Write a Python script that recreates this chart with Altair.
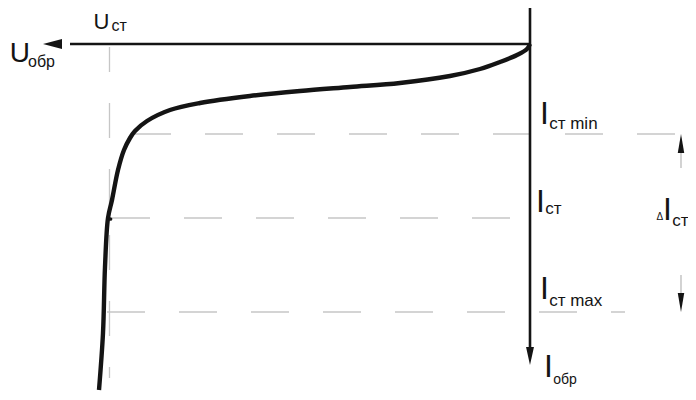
import altair as alt
import pandas as pd

# Reverse branch of a Zener diode I-V characteristic.
# U = reverse voltage (grows to the left), I = reverse current (grows downward), arbitrary units.
curve_U = [0.0, 0.3, 1.3, 3.0, 5.0, 8.0, 13.0, 18.0, 23.0, 28.0, 33.0, 36.0,
           38.3, 39.5, 40.0, 40.6, 41.2, 41.8, 42.2, 42.5, 42.7, 43.1]
curve_I = [0.0, 0.5, 1.1, 1.8, 2.5, 3.2, 3.9, 4.3, 4.7, 5.2, 5.9, 6.6,
           7.7, 8.7, 9.4, 10.6, 12.6, 15.6, 17.4, 22.3, 28.9, 34.6]

U_st = 42.05                      # stabilisation voltage
level_names = ["Iст min", "Iст", "Iст max"]
level_I = [9.0, 17.4, 26.8]       # current levels
level_left_U = [39.7, 41.8, 42.3]
level_right_U = [-14.7, 0.0, -9.5]

U_axis = [0.0, 46.0]              # U axis shaft (I = 0)
I_axis = [-4.0, 30.5]             # I axis shaft (U = 0)
U_arrow_c = 47.75                 # arrow head centres
I_arrow_c = 31.2
U_delta = -15.1                   # position of the delta-I marker

ink = "#141414"
grey = "#c6c6c6"
font = "Liberation Sans"

xs = alt.Scale(domain=[52.2, -15.8], nice=False, zero=False)
ys = alt.Scale(domain=[34.8, -3.6], nice=False, zero=False)


def X(f="U"):
    return alt.X(f"{f}:Q", scale=xs, axis=None)


def Y(f="I"):
    return alt.Y(f"{f}:Q", scale=ys, axis=None)


def seg(us, is_, name="s"):
    return pd.DataFrame({"U": us, "I": is_, "k": list(range(len(us))), "g": [name] * len(us)})


layers = []

# dashed helper lines
lvl = pd.concat([seg([level_left_U[j], level_right_U[j]], [level_I[j], level_I[j]], level_names[j])
                 for j in range(3)])
layers.append(alt.Chart(lvl).mark_line(color=grey, strokeWidth=1.3, strokeDash=[38, 34]).encode(
    x=X(), y=Y(), detail="g:N", order="k:Q"))
layers.append(alt.Chart(seg([U_st, U_st], [0.3, 33.4])).mark_line(
    color=grey, strokeWidth=1.3, strokeDash=[35, 31], strokeDashOffset=10).encode(
    x=X(), y=Y(), order="k:Q"))

# delta-I stems
stems = pd.concat([seg([U_delta, U_delta], [level_I[0] + 1.8, level_I[0] + 3.4], "a"),
                   seg([U_delta, U_delta], [level_I[2] - 3.7, level_I[2] - 1.9], "b")])
layers.append(alt.Chart(stems).mark_line(color="#b5b5b5", strokeWidth=1.2).encode(
    x=X(), y=Y(), detail="g:N", order="k:Q"))

# axes
layers.append(alt.Chart(seg(U_axis, [0, 0])).mark_line(color=ink, strokeWidth=2.6).encode(
    x=X(), y=Y(), order="k:Q"))
layers.append(alt.Chart(seg([0, 0], I_axis)).mark_line(color=ink, strokeWidth=2.6).encode(
    x=X(), y=Y(), order="k:Q"))

# curve
layers.append(alt.Chart(seg(curve_U, curve_I)).mark_line(
    color=ink, strokeWidth=4.4, interpolate="catmull-rom").encode(x=X(), y=Y(), order="k:Q"))
layers.append(alt.Chart(pd.DataFrame({"U": [41.95], "I": [level_I[1] + 0.1]})).mark_point(
    filled=True, size=14, color=ink, opacity=1).encode(x=X(), y=Y()))


def head(u, i, path, size):
    return alt.Chart(pd.DataFrame({"U": [u], "I": [i]})).mark_point(
        shape=path, size=size, filled=True, color=ink, opacity=1, strokeWidth=0).encode(x=X(), y=Y())


layers.append(head(U_arrow_c, 0.0, "M-1,0L1,-0.53L1,0.53Z", 361))
layers.append(head(0.0, I_arrow_c, "M0,1L-0.44,-1L0.44,-1Z", 324))
layers.append(head(U_delta, level_I[0] + 0.95, "M0,-1L-0.34,1L0.34,1Z", 361))
layers.append(head(U_delta, level_I[2] - 0.95, "M0,1L-0.34,-1L0.34,-1Z", 361))

# labels: (text, U, I, font size)
labels = [
    ("U", 43.65, -1.5, 22),
    ("ст", 41.85, -1.3, 16),
    ("U", 52.02, 1.8, 28),
    ("обр", 50.2, 2.3, 16),
    ("I", -1.0, level_I[0] - 1.0, 32),
    ("ст min", -1.92, level_I[0] - 0.5, 17),
    ("I", -0.6, level_I[1] - 0.6, 32),
    ("ст", -1.52, level_I[1] - 0.4, 17),
    ("I", -1.0, level_I[2] - 1.3, 32),
    ("ст max", -1.92, level_I[2] - 0.6, 17),
    ("I", -1.4, 33.3, 32),
    ("обр", -2.32, 34.0, 14),
    ("Δ", -12.65, level_I[1] + 0.2, 10),
    ("I", -13.3, level_I[1] + 0.2, 32),
    ("ст", -14.22, level_I[1] + 0.8, 17),
]
for t, u, i, fs in labels:
    layers.append(alt.Chart(pd.DataFrame({"t": [t], "U": [u], "I": [i]})).mark_text(
        align="left", baseline="alphabetic", font=font, fontSize=fs, color=ink).encode(
        x=X(), y=Y(), text="t:N"))

chart = alt.layer(*layers).properties(
    width=680, height=384, padding=0,
    autosize=alt.AutoSizeParams(type="none"),
    background="white",
).configure_view(stroke=None)

chart.save("out.html", embed_options={"renderer": "svg", "actions": False})
